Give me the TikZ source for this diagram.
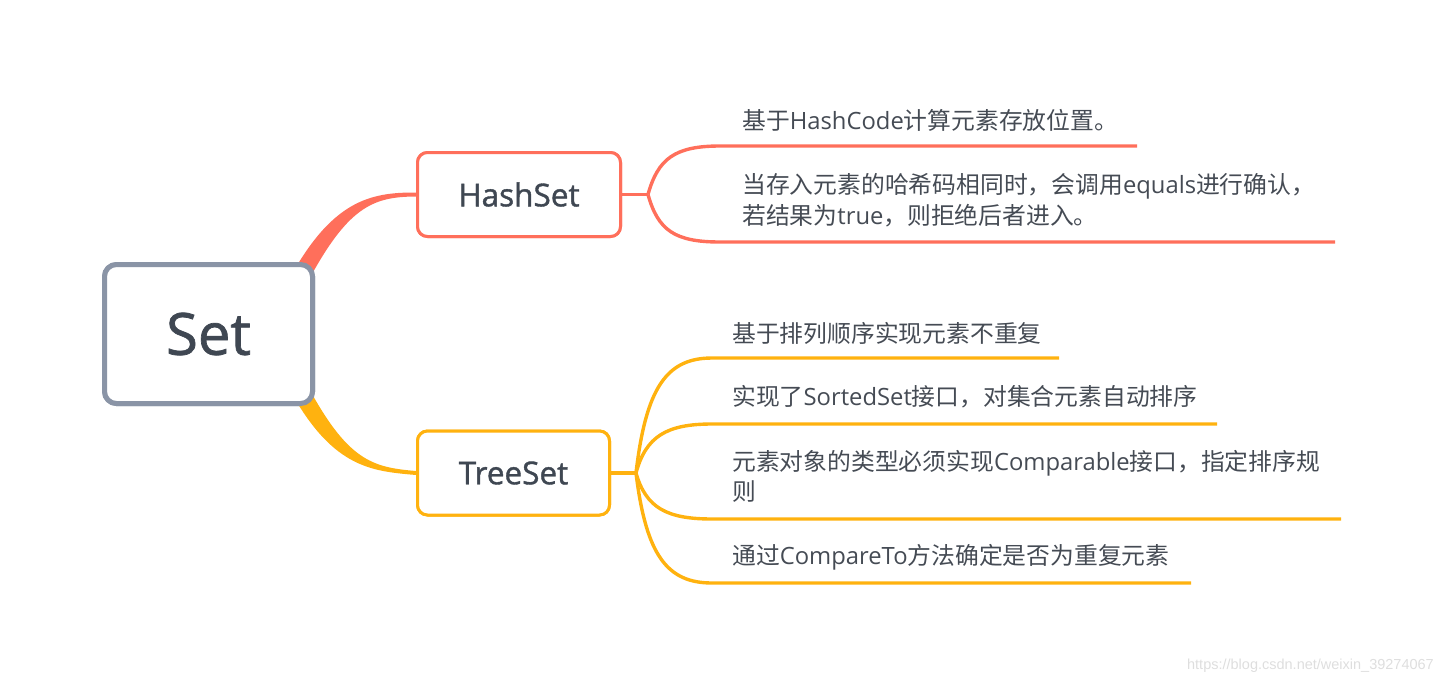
\documentclass[tikz,border=0pt]{standalone}
\usepackage{fontspec}
\setmainfont{Open Sans}
\newfontfamily\cjk{Noto Sans CJK SC}
\newfontfamily\semib[FakeBold=1.2]{Open Sans}
\newfontfamily\wmfont{Liberation Sans}
\usetikzlibrary{calc}
\definecolor{coral}{HTML}{FF6F5B}
\definecolor{amber}{HTML}{FFB20F}
\definecolor{slate}{HTML}{8A94A6}
\definecolor{ink}{HTML}{3F4752}
\definecolor{leafink}{HTML}{454B54}
\newcommand\zh[1]{{\cjk #1}}
\tikzset{
  rootbox/.style={draw=slate, line width=5pt, fill=white, rounded corners=12pt,
    minimum width=208pt, minimum height=139pt, inner sep=0pt, text=ink,
    font=\semib\fontsize{58}{60}\selectfont},
  subbox/.style={line width=3pt, fill=white, rounded corners=10pt,
    minimum height=84pt, inner sep=0pt, text=ink,
    font=\semib\fontsize{31.5}{34}\selectfont},
  leaf/.style={anchor=west, inner sep=0pt, text=leafink, align=left,
    font=\fontsize{23.8}{30.5}\selectfont},
  branch/.style={line width=3.4pt},
}
\begin{document}
\begin{tikzpicture}[x=1pt,y=-1pt]
\useasboundingbox (0,0) rectangle (1442,686);

% nodes (drawn first to give anchors; redrawn on top below)
\path (208.5,334) node[rootbox] (set) {Set};
\path (519,194.5) node[subbox, draw=coral, minimum width=203pt] (hash) {HashSet};
\path (513.5,473) node[subbox, draw=amber, minimum width=192pt] (tree) {TreeSet};

% tapered main connectors
\fill[coral] ($(set.north east)+(-30,25)$) .. controls (330,200) and (370,192.3) .. ($(hash.west)+(0,-2)$)
  -- ($(hash.west)+(0,2)$) .. controls (372,196.7) and (347,207) .. ($(set.north east)+(-10,25)$) -- cycle;
\fill[amber] ($(set.south east)+(-30,-25)$) .. controls (330,468) and (370,471) .. ($(tree.west)+(0,2)$)
  -- ($(tree.west)+(0,-2)$) .. controls (372,467.3) and (347,461) .. ($(set.south east)+(-10,-25)$) -- cycle;

% redraw nodes on top
\path (208.5,334) node[rootbox] (set) {Set};
\path (519,194.5) node[subbox, draw=coral, minimum width=203pt] (hash) {HashSet};
\path (513.5,473) node[subbox, draw=amber, minimum width=192pt] (tree) {TreeSet};

% HashSet branches
\coordinate (hf) at (648,194.5);
\coordinate (h1s) at (720,146);
\coordinate (h1e) at (1137,146);
\coordinate (h2s) at (720,242);
\coordinate (h2e) at (1335,242);
\draw[branch, coral] (hash.east) -- (hf);
\draw[branch, coral] (hf) .. controls ($(hf)+(10,-36)$) and ($(h1s)+(-45,0)$) .. (h1s) -- (h1e);
\draw[branch, coral] (hf) .. controls ($(hf)+(10,36)$) and ($(h2s)+(-45,0)$) .. (h2s) -- (h2e);

\node[leaf] (h1t) at (742,120) {\zh{基于}HashCode\zh{计算元素存放位置。}};
\node[leaf] (h2t) at (742,200) {\zh{当存入元素的哈希码相同时，会调用}equals\zh{进行确认，}\\\zh{若结果为}true\zh{，则拒绝后者进入。}};

% TreeSet branches
\coordinate (tf) at (636,473);
\coordinate (t1s) at (712,358);
\coordinate (t1e) at (1059,358);
\coordinate (t2s) at (712,424);
\coordinate (t2e) at (1217,424);
\coordinate (t3s) at (712,519);
\coordinate (t3e) at (1341,519);
\coordinate (t4s) at (712,583);
\coordinate (t4e) at (1191,583);
\draw[branch, amber] (tree.east) -- (tf);
\draw[branch, amber] (tf) .. controls ($(tf)+(10,-86)$) and ($(t1s)+(-45,0)$) .. (t1s) -- (t1e);
\draw[branch, amber] (tf) .. controls ($(tf)+(10,-37)$) and ($(t2s)+(-45,0)$) .. (t2s) -- (t2e);
\draw[branch, amber] (tf) .. controls ($(tf)+(10,35)$) and ($(t3s)+(-45,0)$) .. (t3s) -- (t3e);
\draw[branch, amber] (tf) .. controls ($(tf)+(10,82)$) and ($(t4s)+(-45,0)$) .. (t4s) -- (t4e);

\node[leaf] (t1t) at (732,333) {\zh{基于排列顺序实现元素不重复}};
\node[leaf] (t2t) at (732,397) {\zh{实现了}SortedSet\zh{接口，对集合元素自动排序}};
\node[leaf] (t3t) at (732,476.5) {\zh{元素对象的类型必须实现}Comparable\zh{接口，指定排序规}\\\zh{则}};
\node[leaf] (t4t) at (732,557) {\zh{通过}CompareTo\zh{方法确定是否为重复元素}};

\node[anchor=east, inner sep=0pt, text=black!13, font=\wmfont\fontsize{14.5}{16}\selectfont] (wm) at (1434,666) {https://blog.csdn.net/weixin\_39274067};
\end{tikzpicture}
\end{document}
